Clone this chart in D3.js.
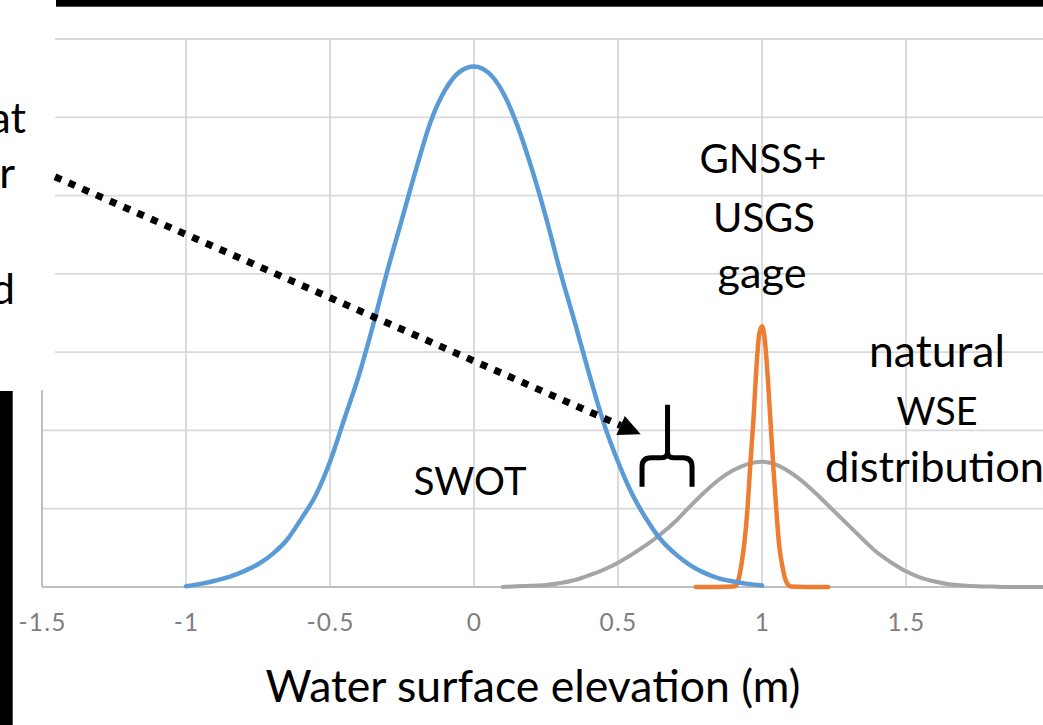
<!DOCTYPE html>
<html><head><meta charset="utf-8">
<script src="https://cdn.jsdelivr.net/npm/d3@7"></script>
<style>html,body{margin:0;padding:0;background:#fff;overflow:hidden}</style>
</head><body><svg id="c" width="1043" height="725"></svg>
<script>
// ---------- data (y in grid-line units) ----------
const xTicks = [-1.5, -1, -0.5, 0, 0.5, 1, 1.5, 2];
const xTickLabels = ["-1.5", "-1", "-0.5", "0", "0.5", "1", "1.5", "2"];
const yGrid = [1, 2, 3, 4, 5, 6, 7];

const swotX = [-1.00,-0.95,-0.90,-0.85,-0.80,-0.75,-0.70,-0.65,-0.60,-0.55,-0.50,-0.45,-0.40,-0.35,-0.30,-0.25,-0.20,-0.15,-0.10,-0.05,
  0.00,0.05,0.10,0.15,0.20,0.25,0.30,0.35,0.40,0.45,0.50,0.55,0.60,0.65,0.70,0.75,0.80,0.85,0.90,0.95,1.00];
const swotY = [0.01,0.04,0.08,0.13,0.20,0.29,0.42,0.60,0.87,1.17,1.60,2.15,2.70,3.35,4.05,4.70,5.35,5.95,6.35,6.58,
  6.65,6.57,6.32,5.90,5.35,4.72,4.02,3.38,2.72,2.10,1.60,1.18,0.86,0.60,0.42,0.28,0.18,0.11,0.07,0.04,0.02];

const gageX = [0.77,0.80,0.85,0.90,0.91,0.92,0.93,0.94,0.95,0.96,0.97,0.98,0.99,1.00,1.01,1.02,1.03,1.04,1.05,1.06,1.07,1.08,1.09,1.10,1.15,1.20,1.23];
const gageY = [0,0,0,0.005,0.02,0.12,0.32,0.60,1.02,1.60,2.12,2.76,3.22,3.33,3.15,2.68,2.08,1.50,0.97,0.52,0.28,0.11,0.03,0.005,0,0,0];

const wseX = [0.10,0.15,0.20,0.25,0.30,0.35,0.40,0.45,0.50,0.55,0.60,0.65,0.70,0.75,0.80,0.85,0.90,0.95,1.00,
  1.05,1.10,1.15,1.20,1.25,1.30,1.35,1.40,1.45,1.50,1.55,1.60,1.65,1.70,1.75,1.80,1.85,1.90,1.95,2.00];
const wseY = [0.00,0.01,0.015,0.025,0.05,0.09,0.15,0.22,0.31,0.42,0.54,0.68,0.84,1.03,1.21,1.37,1.49,1.57,1.60,
  1.56,1.46,1.32,1.15,0.97,0.79,0.61,0.44,0.31,0.20,0.12,0.07,0.035,0.02,0.01,0.005,0,0,0,0];

const seriesNames = ["natural WSE distribution", "GNSS+ USGS gage", "SWOT"];
const seriesColors = ["#a5a5a5", "#ed7d31", "#5b9bd5"];

// ---------- drawing ----------
const svg = d3.select("#c");
const W = 1043, H = 725;
const x = d3.scaleLinear().domain([-1.5, 2]).range([42, 1050]);
const y = d3.scaleLinear().domain([0, 7]).range([587, 39]);
const FONT = "Lato, 'Open Sans', sans-serif";

// grid
svg.append("g").selectAll("line").data(yGrid).join("line")
  .attr("x1", x(-1.5)).attr("x2", x(2)).attr("y1", d => y(d)).attr("y2", d => y(d))
  .attr("stroke", "#d9d9d9").attr("stroke-width", 1.8);
svg.append("g").selectAll("line").data(xTicks.slice(1)).join("line")
  .attr("x1", d => x(d)).attr("x2", d => x(d)).attr("y1", y(0)).attr("y2", y(7))
  .attr("stroke", "#d9d9d9").attr("stroke-width", 1.8);
// axis lines
svg.append("line").attr("x1", x(-1.5)).attr("x2", x(2)).attr("y1", y(0)).attr("y2", y(0))
  .attr("stroke", "#bfbfbf").attr("stroke-width", 2);
svg.append("line").attr("x1", x(-1.5)).attr("x2", x(-1.5)).attr("y1", y(0)).attr("y2", y(7))
  .attr("stroke", "#bfbfbf").attr("stroke-width", 2);

// tick labels
const ax = svg.append("g").attr("transform", `translate(0,${y(0)})`)
  .call(d3.axisBottom(x).tickValues(xTicks).tickFormat((d, i) => xTickLabels[i]).tickSize(0).tickPadding(27));
ax.select(".domain").remove();
ax.selectAll("text").attr("font-family", FONT).attr("font-size", 24.5).attr("fill", "#7f7f7f")
  .attr("letter-spacing", 1.2);

// curves
const line = d3.line().x(d => x(d[0])).y(d => y(d[1])).curve(d3.curveMonotoneX);
const series = [d3.zip(wseX, wseY), d3.zip(gageX, gageY), d3.zip(swotX, swotY)];
svg.append("g").selectAll("path").data(series).join("path")
  .attr("d", line).attr("fill", "none")
  .attr("stroke", (d, i) => seriesColors[i]).attr("stroke-width", (d, i) => i === 0 ? 4 : 4.5)
  .attr("stroke-linejoin", "round").attr("stroke-linecap", "round");

// cover of the overlapping text box and slide decorations
svg.append("rect").attr("x", 0).attr("y", 0).attr("width", 55).attr("height", 390).attr("fill", "#fff");
svg.append("rect").attr("x", 56).attr("y", 0).attr("width", W - 56).attr("height", 6.7).attr("fill", "#000");
svg.append("rect").attr("x", 0).attr("y", 391).attr("width", 12.7).attr("height", H - 391).attr("fill", "#000");

// text helpers
function fitSize(txt, target, base) {
  const t = svg.append("text").text(txt).attr("font-family", FONT).attr("font-size", base);
  const w = t.node().getComputedTextLength(); t.remove();
  return base * target / w;
}
function label(txt, xp, yp, anchor, size) {
  return svg.append("text").text(txt).attr("x", xp).attr("y", yp)
    .attr("text-anchor", anchor).attr("font-family", FONT).attr("font-size", size).attr("fill", "#000");
}
const refSize = fitSize("GNSS+", 127, 46);
const lowSize = fitSize("distribution", 219, 46);
label("GNSS+", 763, 173, "middle", refSize);
label("USGS", 764, 232, "middle", fitSize("USGS", 102, 46));
label("gage", 762, 288, "middle", fitSize("gage", 89, 46));
label("natural", 937, 367, "middle", fitSize("natural", 136, 46));
label("WSE", 937, 425, "middle", fitSize("WSE", 81, 46));
label("distribution", 825, 482, "start", lowSize);
label("SWOT", 470, 495, "middle", fitSize("SWOT", 113, 46));
label("at", 26, 133, "end", lowSize);
label("r", 15, 188, "end", lowSize);
label("d", 15, 304, "end", lowSize);
label("Water surface elevation (m)", 533, 702, "middle", fitSize("Water surface elevation (m)", 535, 42));

// dotted arrow
const p0 = [x(-1.455), y(5.24)], tip = [x(0.579), y(1.95)];
const dx = tip[0] - p0[0], dy = tip[1] - p0[1], L = Math.hypot(dx, dy);
const ux = dx / L, uy = dy / L, hl = 22, hw = 10.5;
const base = [tip[0] - ux * hl, tip[1] - uy * hl];
svg.append("line").attr("x1", p0[0]).attr("y1", p0[1]).attr("x2", base[0]).attr("y2", base[1])
  .attr("stroke", "#000").attr("stroke-width", 7).attr("stroke-dasharray", "7,8");
svg.append("path").attr("d", `M${tip[0]},${tip[1]} L${base[0] - uy * hw},${base[1] + ux * hw} L${base[0] + uy * hw},${base[1] - ux * hw} Z`)
  .attr("fill", "#000");

// brace
const bx = x(0.672), by = y(1.65);
svg.append("path").attr("transform", `translate(${bx},${by})`)
  .attr("d", "M0,-53 V-6 M-25.5,29 V9 Q-25.5,0 -16.5,0 H-6 Q0,0 0,-6 Q0,0 6,0 H15.5 Q24.5,0 24.5,9 V29")
  .attr("fill", "none").attr("stroke", "#000").attr("stroke-width", 5);
</script></body></html>
